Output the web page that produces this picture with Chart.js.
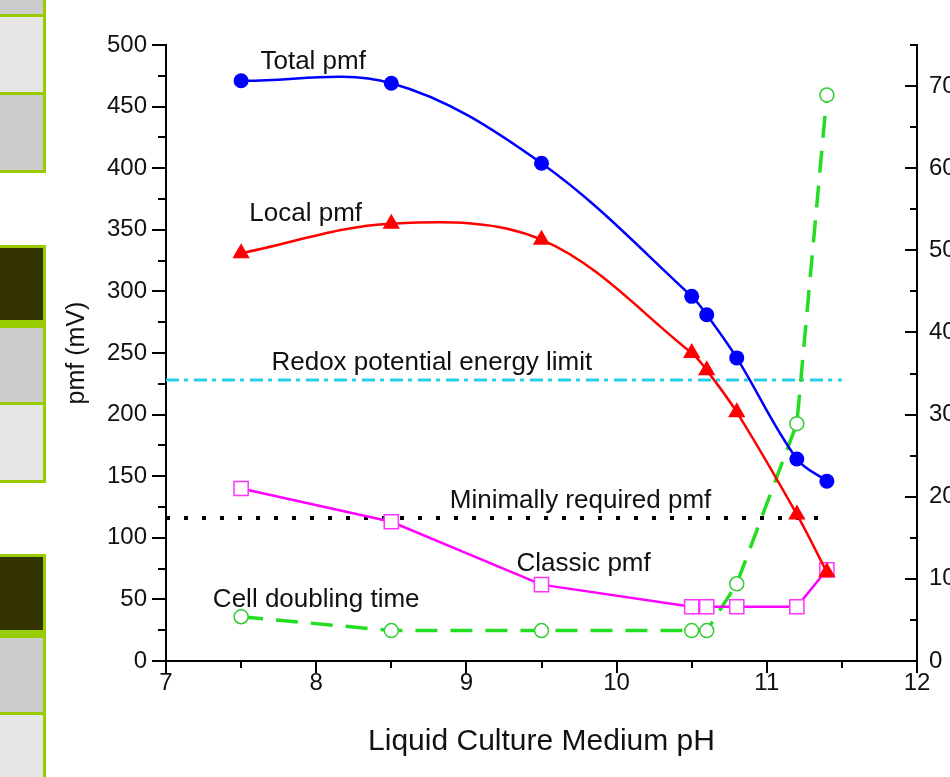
<!DOCTYPE html>
<html>
<head>
<meta charset="utf-8">
<script src="https://cdn.jsdelivr.net/npm/chart.js@4.4.1/dist/chart.umd.min.js"></script>
<style>
    html, body { margin: 0; padding: 0; overflow: hidden; background: #fff; }
    #wrap { position: relative; width: 950px; height: 777px; overflow: hidden; }
    .box { position: absolute; left: -5px; width: 51px; box-sizing: border-box; border: 3px solid #99cc00; }
    .grey { background: #cccccc; }
    .light { background: #e6e6e6; }
    .dark { background: #333300; border-bottom-width: 8px; }
    #chart { position: absolute; left: 0; top: 0; }
</style>
</head>
<body>
<div id="wrap">
    <div class="box grey" style="top:-60px;height:77px"></div>
    <div class="box light" style="top:14px;height:81px"></div>
    <div class="box grey" style="top:92px;height:81px"></div>
    <div class="box dark" style="top:245px;height:83px"></div>
    <div class="box grey" style="top:325px;height:80px"></div>
    <div class="box light" style="top:402px;height:81px"></div>
    <div class="box dark" style="top:554px;height:84px"></div>
    <div class="box grey" style="top:635px;height:80px"></div>
    <div class="box light" style="top:712px;height:100px"></div>
    <canvas id="chart" width="1000" height="777"></canvas>
</div>
<script>
// datos
var phValues = [7.5, 8.5, 9.5, 10.5, 10.6, 10.8, 11.2, 11.4];
var totalPmf = [471, 469, 404, 296, 281, 246, 164, 146];
var localPmf = [331, 355, 342, 250, 236, 202, 119, 72];
var classicPmf = [140, 113, 62, 44, 44, 44, 44, 74];
var doublingTime = [5.4, 3.7, 3.7, 3.7, 3.7, 9.4, 28.9, 68.9];

var redoxLimit = 228;
var redoxRange = [7, 11.5];
var minimalPmf = 116;
var minimalRange = [7, 11.4];

var xTicks = { min: 7, max: 12, step: 0.5, major: 1 };
var leftTicks = { min: 0, max: 500, step: 25, major: 50 };
var rightTicks = { min: 0, max: 75, step: 5, major: 10 };

var FONT = "Arial, 'Liberation Sans', sans-serif";
var CANVAS_W = 1000;

function pairs(xs, ys) {
    return xs.map(function (x, i) { return { x: x, y: ys[i] }; });
}

function isMajor(v, major) {
    return Math.abs(v / major - Math.round(v / major)) < 1e-6;
}

// etiquetas dentro del grafico (en unidades de datos)
var annotations = [
    { text: "Total pmf", x: 7.98, y: 486 },
    { text: "Local pmf", x: 7.93, y: 363 },
    { text: "Redox potential energy limit", x: 8.77, y: 242 },
    { text: "Minimally required pmf", x: 9.76, y: 130 },
    { text: "Classic pmf", x: 9.78, y: 79 },
    { text: "Cell doubling time", x: 8.0, y: 50 }
];

var tickMarks = {
    id: "tickMarks",
    afterDraw: function (chart) {
        var ctx = chart.ctx;
        var area = chart.chartArea;
        var sx = chart.scales.x, sy = chart.scales.y, sy2 = chart.scales.y2;
        ctx.save();
        ctx.strokeStyle = "#000";
        ctx.lineWidth = 2;
        ctx.beginPath();
        sx.ticks.forEach(function (t) {
            var px = Math.round(sx.getPixelForValue(t.value));
            var len = isMajor(t.value, xTicks.major) ? 12 : 7;
            ctx.moveTo(px, area.bottom);
            ctx.lineTo(px, area.bottom + len);
        });
        sy.ticks.forEach(function (t) {
            var py = Math.round(sy.getPixelForValue(t.value));
            var len = isMajor(t.value, leftTicks.major) ? 14 : 8;
            ctx.moveTo(area.left, py);
            ctx.lineTo(area.left - len, py);
        });
        sy2.ticks.forEach(function (t) {
            var py = Math.round(sy2.getPixelForValue(t.value));
            var len = isMajor(t.value, rightTicks.major) ? 12 : 7;
            ctx.moveTo(area.right, py);
            ctx.lineTo(area.right - len, py);
        });
        ctx.stroke();
        ctx.restore();
    }
};

var textLabels = {
    id: "textLabels",
    afterDatasetsDraw: function (chart) {
        var ctx = chart.ctx;
        var sx = chart.scales.x, sy = chart.scales.y;
        ctx.save();
        ctx.fillStyle = "#111";
        ctx.font = "26px " + FONT;
        ctx.textAlign = "center";
        ctx.textBaseline = "middle";
        annotations.forEach(function (a) {
            ctx.fillText(a.text, sx.getPixelForValue(a.x), sy.getPixelForValue(a.y));
        });
        ctx.restore();
    }
};

var tickFont = { family: FONT, size: 24 };

var chart = new Chart(document.getElementById("chart").getContext("2d"), {
    type: "scatter",
    data: {
        datasets: [
            {
                label: "Total pmf",
                data: pairs(phValues, totalPmf),
                yAxisID: "y",
                showLine: true,
                tension: 0.35,
                borderColor: "#0000ff",
                borderWidth: 2.5,
                pointStyle: "circle",
                pointRadius: 7.5,
                pointBorderWidth: 0,
                pointBackgroundColor: "#0000ff"
            },
            {
                label: "Local pmf",
                data: pairs(phValues, localPmf),
                yAxisID: "y",
                showLine: true,
                tension: 0.35,
                borderColor: "#ff0000",
                borderWidth: 2.5,
                pointStyle: "triangle",
                pointRadius: 10,
                pointBorderWidth: 0,
                pointBackgroundColor: "#ff0000"
            },
            {
                label: "Classic pmf",
                data: pairs(phValues, classicPmf),
                yAxisID: "y",
                showLine: true,
                tension: 0,
                borderColor: "#ff00ff",
                borderWidth: 2.5,
                pointStyle: "rect",
                pointRadius: 10,
                pointBorderWidth: 1.5,
                pointBorderColor: "#ff33ff",
                pointBackgroundColor: "#ffffff"
            },
            {
                label: "Cell doubling time",
                data: pairs(phValues, doublingTime),
                yAxisID: "y2",
                showLine: true,
                tension: 0,
                borderColor: "#22dd22",
                borderWidth: 3.5,
                borderDash: [22, 13],
                pointStyle: "circle",
                pointRadius: 7,
                pointBorderWidth: 1.5,
                pointBorderColor: "#33cc33",
                pointBackgroundColor: "#ffffff"
            },
            {
                label: "Redox potential energy limit",
                data: pairs(redoxRange, [redoxLimit, redoxLimit]),
                yAxisID: "y",
                showLine: true,
                borderColor: "#22d3e6",
                borderWidth: 3,
                borderDash: [13, 5, 4, 6],
                pointRadius: 0
            },
            {
                label: "Minimally required pmf",
                data: pairs(minimalRange, [minimalPmf, minimalPmf]),
                yAxisID: "y",
                showLine: true,
                borderColor: "#000000",
                borderWidth: 4,
                borderDash: [4, 14],
                pointRadius: 0
            }
        ]
    },
    options: {
        responsive: false,
        animation: false,
        devicePixelRatio: 1,
        clip: false,
        layout: { padding: { top: 45, left: 0, right: 0, bottom: 0 } },
        plugins: {
            legend: { display: false },
            tooltip: { enabled: false }
        },
        scales: {
            x: {
                type: "linear",
                position: "bottom",
                min: xTicks.min,
                max: xTicks.max,
                grid: { display: false, drawTicks: false },
                border: { display: true, color: "#000", width: 2 },
                ticks: {
                    stepSize: xTicks.step,
                    autoSkip: false,
                    maxRotation: 0,
                    padding: 8,
                    color: "#111",
                    font: tickFont,
                    callback: function (v) { return isMajor(v, xTicks.major) ? v : ""; }
                },
                title: {
                    display: true,
                    text: "Liquid Culture Medium pH",
                    color: "#111",
                    font: { family: FONT, size: 30 },
                    padding: { top: 0, bottom: 17 }
                },
                afterFit: function (s) { s.height = 116; }
            },
            y: {
                type: "linear",
                position: "left",
                min: leftTicks.min,
                max: leftTicks.max,
                grid: { display: false, drawTicks: false },
                border: { display: true, color: "#000", width: 2 },
                ticks: {
                    stepSize: leftTicks.step,
                    autoSkip: false,
                    padding: 19,
                    color: "#111",
                    font: tickFont,
                    callback: function (v) { return isMajor(v, leftTicks.major) ? v : ""; }
                },
                title: {
                    display: true,
                    text: "pmf (mV)",
                    color: "#111",
                    font: { family: FONT, size: 25 },
                    padding: { top: 62, bottom: 0 }
                },
                afterFit: function (s) { s.width = 166; }
            },
            y2: {
                type: "linear",
                position: "right",
                min: rightTicks.min,
                max: rightTicks.max,
                grid: { display: false, drawTicks: false },
                border: { display: true, color: "#000", width: 2 },
                ticks: {
                    stepSize: rightTicks.step,
                    autoSkip: false,
                    padding: 12,
                    color: "#111",
                    font: tickFont,
                    callback: function (v) { return isMajor(v, rightTicks.major) ? v : ""; }
                },
                afterFit: function (s) { s.width = CANVAS_W - 917; }
            }
        }
    },
    plugins: [tickMarks, textLabels]
});
</script>
</body>
</html>
